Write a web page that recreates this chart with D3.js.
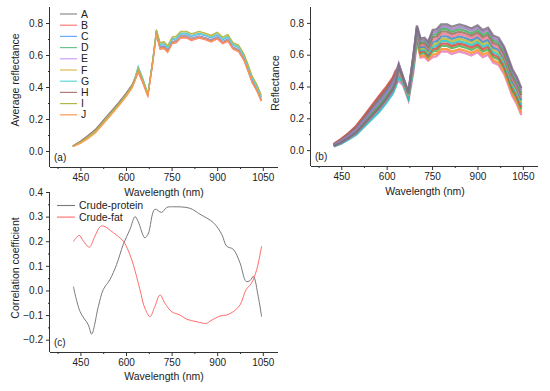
<!DOCTYPE html>
<html>
<head>
<meta charset="utf-8">
<script src="https://cdn.jsdelivr.net/npm/d3@7"></script>
<style>
  body { margin: 0; background: #fff; }
  text { font-family: "Liberation Sans", Arial, sans-serif; fill: #222; }
</style>
</head>
<body>
<svg id="chart" width="550" height="391"></svg>
<script>
// wavelength grid shared by panels (a) and (b)
const wavelengths = [425,450,475,500,525,550,575,600,620,630,640,655,672,688,700,712,725,737,752,765,780,800,815,840,860,880,900,918,935,952,970,988,1000,1015,1030,1045];

// panel (a): average reflectance of groups A-J
const groupNames = ["A","B","C","D","E","F","G","H","I","J"];
const groupColors = ["#8c8c8c","#ff7b7b","#6aa8ff","#6cc48c","#cf9cf2","#e0bb4f","#62d6d6","#a97b74","#b5b54a","#ff9a4d"];
const avgA = [0.032,0.060,0.096,0.135,0.190,0.245,0.300,0.360,0.413,0.456,0.510,0.440,0.352,0.560,0.742,0.650,0.655,0.630,0.685,0.690,0.720,0.720,0.705,0.720,0.710,0.695,0.715,0.685,0.700,0.650,0.635,0.580,0.520,0.440,0.390,0.320];
const avgB = [0.028,0.050,0.082,0.119,0.174,0.229,0.284,0.344,0.398,0.440,0.490,0.425,0.340,0.545,0.725,0.635,0.640,0.615,0.670,0.675,0.705,0.705,0.690,0.705,0.695,0.680,0.700,0.670,0.685,0.635,0.620,0.565,0.505,0.425,0.375,0.310];
const avgC = [0.030,0.055,0.088,0.125,0.180,0.235,0.290,0.350,0.405,0.450,0.505,0.438,0.348,0.562,0.748,0.660,0.665,0.640,0.695,0.700,0.730,0.730,0.715,0.730,0.720,0.705,0.725,0.695,0.710,0.660,0.645,0.590,0.530,0.450,0.400,0.330];
const avgD = [0.031,0.058,0.093,0.131,0.186,0.241,0.296,0.356,0.412,0.460,0.525,0.452,0.356,0.572,0.758,0.667,0.672,0.647,0.702,0.707,0.737,0.737,0.722,0.737,0.727,0.712,0.732,0.702,0.717,0.667,0.652,0.597,0.537,0.457,0.407,0.337];
const avgE = [0.030,0.054,0.087,0.124,0.179,0.234,0.289,0.349,0.403,0.447,0.502,0.436,0.347,0.555,0.737,0.645,0.650,0.625,0.680,0.685,0.715,0.715,0.700,0.715,0.705,0.690,0.710,0.680,0.695,0.645,0.630,0.575,0.515,0.435,0.385,0.318];
const avgF = [0.029,0.051,0.083,0.120,0.175,0.230,0.285,0.345,0.402,0.450,0.515,0.445,0.352,0.568,0.755,0.675,0.680,0.655,0.710,0.715,0.745,0.745,0.730,0.745,0.735,0.720,0.740,0.710,0.725,0.675,0.660,0.605,0.545,0.465,0.415,0.345];
const avgG = [0.031,0.058,0.092,0.129,0.184,0.239,0.294,0.354,0.411,0.462,0.530,0.458,0.360,0.570,0.752,0.665,0.670,0.645,0.700,0.705,0.735,0.735,0.720,0.735,0.725,0.710,0.730,0.700,0.715,0.665,0.650,0.595,0.535,0.455,0.405,0.335];
const avgH = [0.032,0.061,0.097,0.136,0.191,0.246,0.301,0.361,0.414,0.454,0.505,0.436,0.348,0.555,0.735,0.642,0.647,0.622,0.677,0.682,0.712,0.712,0.697,0.712,0.702,0.687,0.707,0.677,0.692,0.642,0.627,0.572,0.512,0.432,0.382,0.315];
const avgI = [0.030,0.055,0.088,0.125,0.180,0.235,0.290,0.350,0.406,0.455,0.518,0.448,0.355,0.570,0.758,0.678,0.683,0.658,0.713,0.718,0.748,0.748,0.733,0.748,0.738,0.723,0.743,0.713,0.728,0.678,0.663,0.608,0.548,0.468,0.418,0.348];
const avgJ = [0.027,0.047,0.077,0.113,0.168,0.223,0.278,0.338,0.393,0.438,0.498,0.430,0.340,0.550,0.730,0.639,0.644,0.619,0.674,0.679,0.709,0.709,0.694,0.709,0.699,0.684,0.704,0.674,0.689,0.639,0.624,0.569,0.509,0.429,0.379,0.312];
const groupSeries = [avgA,avgB,avgC,avgD,avgE,avgF,avgG,avgH,avgI,avgJ];

// panel (b): individual sample spectra
const sample1  = [0.024,0.043,0.072,0.103,0.152,0.201,0.250,0.310,0.365,0.410,0.438,0.404,0.314,0.488,0.682,0.582,0.587,0.562,0.585,0.590,0.620,0.620,0.605,0.620,0.610,0.595,0.615,0.585,0.600,0.550,0.535,0.480,0.420,0.340,0.290,0.220];
const sample2  = [0.035,0.064,0.100,0.142,0.201,0.261,0.320,0.380,0.435,0.480,0.480,0.425,0.335,0.530,0.691,0.592,0.597,0.572,0.600,0.605,0.635,0.635,0.620,0.635,0.625,0.610,0.630,0.600,0.615,0.565,0.550,0.495,0.435,0.355,0.305,0.235];
const sample3  = [0.027,0.049,0.080,0.114,0.166,0.218,0.270,0.330,0.385,0.430,0.465,0.418,0.328,0.515,0.703,0.606,0.611,0.586,0.620,0.625,0.655,0.655,0.640,0.655,0.645,0.630,0.650,0.620,0.635,0.585,0.570,0.515,0.455,0.375,0.325,0.255];
const sample4  = [0.038,0.070,0.108,0.153,0.215,0.278,0.340,0.400,0.455,0.500,0.508,0.439,0.349,0.558,0.712,0.617,0.622,0.597,0.635,0.640,0.670,0.670,0.655,0.670,0.660,0.645,0.665,0.635,0.650,0.600,0.585,0.530,0.470,0.390,0.340,0.270];
const sample5  = [0.023,0.040,0.068,0.098,0.145,0.193,0.240,0.300,0.355,0.400,0.465,0.418,0.328,0.515,0.721,0.627,0.632,0.607,0.650,0.655,0.685,0.685,0.670,0.685,0.675,0.660,0.680,0.650,0.665,0.615,0.600,0.545,0.485,0.405,0.355,0.285];
const sample6  = [0.030,0.055,0.088,0.125,0.180,0.235,0.290,0.350,0.405,0.450,0.498,0.434,0.344,0.548,0.730,0.638,0.643,0.618,0.665,0.670,0.700,0.700,0.685,0.700,0.690,0.675,0.695,0.665,0.680,0.630,0.615,0.560,0.500,0.420,0.370,0.300];
const sample7  = [0.033,0.061,0.096,0.136,0.194,0.252,0.310,0.370,0.425,0.470,0.515,0.443,0.353,0.565,0.739,0.648,0.653,0.628,0.680,0.685,0.715,0.715,0.700,0.715,0.705,0.690,0.710,0.680,0.695,0.645,0.630,0.575,0.515,0.435,0.385,0.315];
const sample8  = [0.026,0.046,0.076,0.109,0.159,0.210,0.260,0.320,0.375,0.420,0.498,0.434,0.344,0.548,0.748,0.659,0.664,0.639,0.695,0.700,0.730,0.730,0.715,0.730,0.720,0.705,0.725,0.695,0.710,0.660,0.645,0.590,0.530,0.450,0.400,0.330];
const sample9  = [0.036,0.067,0.104,0.147,0.208,0.269,0.330,0.390,0.445,0.490,0.540,0.455,0.365,0.590,0.757,0.669,0.674,0.649,0.710,0.715,0.745,0.745,0.730,0.745,0.735,0.720,0.740,0.710,0.725,0.675,0.660,0.605,0.545,0.465,0.415,0.345];
const sample10 = [0.029,0.052,0.084,0.120,0.173,0.227,0.280,0.340,0.395,0.440,0.523,0.443,0.353,0.573,0.766,0.680,0.685,0.660,0.725,0.730,0.760,0.760,0.745,0.760,0.750,0.735,0.755,0.725,0.740,0.690,0.675,0.620,0.560,0.480,0.430,0.360];
const sample11 = [0.032,0.058,0.092,0.131,0.187,0.244,0.300,0.360,0.415,0.460,0.540,0.455,0.365,0.590,0.775,0.690,0.695,0.670,0.740,0.745,0.775,0.775,0.760,0.775,0.765,0.750,0.770,0.740,0.755,0.705,0.690,0.635,0.575,0.495,0.445,0.375];
const sample12 = [0.026,0.048,0.078,0.111,0.163,0.214,0.265,0.325,0.380,0.425,0.530,0.450,0.360,0.580,0.784,0.701,0.706,0.681,0.755,0.760,0.790,0.790,0.775,0.790,0.780,0.765,0.785,0.755,0.770,0.720,0.705,0.650,0.590,0.510,0.460,0.390];
const sampleSeries = [sample1,sample2,sample3,sample4,sample5,sample6,sample7,sample8,sample9,sample10,sample11,sample12];
const sampleColors = ["#e57fb8","#ff8c2a","#4caf50","#e0443e","#26c2c9","#b8b832","#3d86c6","#f07a8e","#9c6b5e","#3fae5a","#a07cc5","#7b6f7f"];

// panel (c): correlation coefficients
const proteinWl = [427,449,476,487,509,525,547,569,591,613,630,640,662,673,695,717,734,756,810,843,887,915,931,953,975,995,1008,1019,1035,1046];
const proteinR  = [0.016,-0.086,-0.14,-0.177,-0.065,0.003,0.044,0.105,0.187,0.248,0.30,0.28,0.214,0.23,0.33,0.317,0.337,0.34,0.334,0.31,0.276,0.228,0.18,0.167,0.112,0.037,0.04,0.057,-0.025,-0.106];
const fatWl = [427,446,460,479,498,514,525,558,591,608,624,646,662,679,695,712,728,750,778,800,833,865,876,909,931,953,975,995,1013,1030,1046];
const fatR  = [0.198,0.224,0.20,0.176,0.221,0.258,0.262,0.235,0.20,0.16,0.105,0.003,-0.072,-0.106,-0.065,-0.018,-0.052,-0.086,-0.10,-0.117,-0.127,-0.134,-0.125,-0.104,-0.10,-0.086,-0.059,0.003,0.03,0.085,0.18];
const corrNames = ["Crude-protein","Crude-fat"];
const corrColors = ["#7a7a7a","#ff6b6b"];

const xMajor = [450,600,750,900,1050];
const xMinor = [375,525,675,825,975];
const reflMajor = [0.0,0.2,0.4,0.6,0.8];
const reflMinor = [0.1,0.3,0.5,0.7];
const corrMajor = [-0.2,-0.1,0.0,0.1,0.2,0.3,0.4];
const corrMinor = [-0.15,-0.05,0.05,0.15,0.25,0.35];

const svg = d3.select("#chart");
svg.append("rect").attr("width",550).attr("height",391).attr("fill","#fff");

// builds one panel frame: axes, ticks, titles; returns scales
function panel(p) {
  const x = d3.scaleLinear().domain([350,1100]).range([p.left,p.right]);
  const y = d3.scaleLinear().domain(p.yDomain).range([p.bottom,p.top]);
  const g = svg.append("g");

  const xa = g.append("g").attr("transform","translate(0,"+p.bottom+")")
    .call(d3.axisBottom(x).tickValues(xMajor).tickSize(4).tickPadding(3).tickFormat(d3.format("d")));
  g.append("g").attr("transform","translate(0,"+p.bottom+")")
    .call(d3.axisBottom(x).tickValues(xMinor).tickSize(2).tickFormat(""))
    .select(".domain").remove();
  const ya = g.append("g").attr("transform","translate("+p.left+",0)")
    .call(d3.axisLeft(y).tickValues(p.yMajor).tickSize(4).tickPadding(3).tickFormat(d3.format(".1f")));
  g.append("g").attr("transform","translate("+p.left+",0)")
    .call(d3.axisLeft(y).tickValues(p.yMinor).tickSize(2).tickFormat(""))
    .select(".domain").remove();

  xa.select(".domain").attr("d","M"+p.left+",0.5H"+p.right);
  ya.select(".domain").attr("d","M-0.5,"+p.top+"V"+p.bottom);
  g.selectAll(".domain, .tick line").attr("stroke","#333");
  g.selectAll(".tick text").attr("font-size",10).attr("fill","#222")
    .attr("font-family","Liberation Sans, Arial, sans-serif");

  svg.append("text").attr("x",p.xTitleX).attr("y",p.xTitleY)
    .attr("text-anchor","middle").attr("font-size",10.5).text("Wavelength (nm)");
  svg.append("text").attr("transform","translate("+p.yTitleX+","+p.yTitleY+") rotate(-90)")
    .attr("text-anchor","middle").attr("font-size",10.5).text(p.yTitle);
  svg.append("text").attr("x",p.left+4).attr("y",p.bottom-6)
    .attr("font-size",10).text(p.tag);
  return {x:x, y:y};
}

// (a)
const pa = panel({left:50,right:278,top:7,bottom:167,yDomain:[-0.1,0.9],
  yMajor:reflMajor,yMinor:reflMinor,yTitle:"Average reflectance",yTitleX:19,yTitleY:80,
  xTitleX:164,xTitleY:196,tag:"(a)"});
const lineA = d3.line().x((d,i)=>pa.x(wavelengths[i])).y(d=>pa.y(d));
groupSeries.forEach(function(s,i){
  svg.append("path").attr("d",lineA(s)).attr("fill","none")
    .attr("stroke",groupColors[i]).attr("stroke-width",1.1);
});
groupNames.forEach(function(n,i){
  const yy = 14 + i*11.2;
  svg.append("line").attr("x1",60).attr("x2",77).attr("y1",yy).attr("y2",yy)
    .attr("stroke",groupColors[i]).attr("stroke-width",1.2);
  svg.append("text").attr("x",81).attr("y",yy+3.6).attr("font-size",10.5).text(n);
});

// (b)
const pb = panel({left:311,right:538,top:7,bottom:166,yDomain:[-0.1,0.9],
  yMajor:reflMajor,yMinor:reflMinor,yTitle:"Reflectance",yTitleX:279,yTitleY:83,
  xTitleX:425,xTitleY:195,tag:"(b)"});
const lineB = d3.line().x((d,i)=>pb.x(wavelengths[i])).y(d=>pb.y(d));
sampleSeries.forEach(function(s,i){
  svg.append("path").attr("d",lineB(s)).attr("fill","none")
    .attr("stroke",sampleColors[i]).attr("stroke-width",2.3).attr("stroke-opacity",0.85);
});

// (c)
const pc = panel({left:50,right:278,top:192,bottom:352,yDomain:[-0.25,0.4],
  yMajor:corrMajor,yMinor:corrMinor,yTitle:"Correlation coefficient",yTitleX:19,yTitleY:268,
  xTitleX:164,xTitleY:380,tag:"(c)"});
const lineC = d3.line().curve(d3.curveCatmullRom.alpha(0.5)).x(d=>pc.x(d[0])).y(d=>pc.y(d[1]));
svg.append("path").attr("d",lineC(proteinWl.map((w,i)=>[w,proteinR[i]]))).attr("fill","none")
  .attr("stroke",corrColors[0]).attr("stroke-width",1);
svg.append("path").attr("d",lineC(fatWl.map((w,i)=>[w,fatR[i]]))).attr("fill","none")
  .attr("stroke",corrColors[1]).attr("stroke-width",1);
corrNames.forEach(function(n,i){
  const yy = 205.5 + i*11.6;
  svg.append("line").attr("x1",57).attr("x2",75).attr("y1",yy).attr("y2",yy)
    .attr("stroke",corrColors[i]).attr("stroke-width",1.1);
  svg.append("text").attr("x",79).attr("y",yy+3.6).attr("font-size",10.5).text(n);
});
</script>
</body>
</html>
